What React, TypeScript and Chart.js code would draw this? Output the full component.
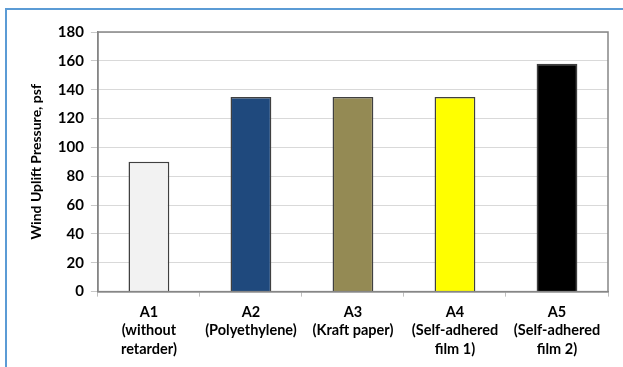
import React, { useEffect, useRef } from "react";
import { Chart, registerables } from "chart.js";

Chart.register(...registerables);

// Specimen assemblies and measured uplift pressures
const categories: string[][] = [
  ["A1", "(without", "retarder)"],
  ["A2", "(Polyethylene)"],
  ["A3", "(Kraft paper)"],
  ["A4", "(Self-adhered", "film 1)"],
  ["A5", "(Self-adhered", "film 2)"],
];
const upliftPsf: number[] = [90, 135, 135, 135, 158];
const barColors: string[] = ["#f2f2f2", "#1f497d", "#948a54", "#ffff00", "#000000"];
const yTicks: number[] = [0, 20, 40, 60, 80, 100, 120, 140, 160, 180];

const FONT = "Lato, 'Open Sans', sans-serif";

// Draws the grey frame around the plot area
const plotFrame = {
  id: "plotFrame",
  afterDatasetsDraw(chart: any) {
    const { ctx, chartArea } = chart;
    ctx.save();
    ctx.strokeStyle = "#868686";
    ctx.lineWidth = 1.5;
    ctx.strokeRect(chartArea.left, chartArea.top, chartArea.right - chartArea.left, chartArea.bottom - chartArea.top);
    ctx.restore();
  },
};

export default function App() {
  const ref = useRef<HTMLCanvasElement | null>(null);

  useEffect(() => {
    if (!ref.current) return;
    const chart = new Chart(ref.current, {
      type: "bar",
      data: {
        labels: categories,
        datasets: [
          {
            data: upliftPsf,
            backgroundColor: barColors,
            borderColor: "#404040",
            borderWidth: 1.5,
            barPercentage: 0.4,
            categoryPercentage: 1,
          },
        ],
      },
      options: {
        animation: false,
        responsive: false,
        maintainAspectRatio: false,
        layout: { padding: { left: 28, right: 15, top: 32, bottom: 2 } },
        plugins: { legend: { display: false }, tooltip: { enabled: false } },
        scales: {
          x: {
            offset: true,
            grid: {
              offset: true,
              drawOnChartArea: false,
              drawTicks: true,
              tickLength: 5,
              color: "#bfbfbf",
            },
            border: { display: true, color: "#868686", width: 1.5 },
            ticks: {
              color: "#000",
              font: { family: FONT, size: 14.5, weight: "bold", lineHeight: 1.25 },
              padding: 7,
              maxRotation: 0,
              autoSkip: false,
            },
          },
          y: {
            min: 0,
            max: 180,
            afterBuildTicks: (axis: any) => {
              axis.ticks = yTicks.map((v) => ({ value: v }));
            },
            grid: { color: "#d9d9d9", tickLength: 7, tickColor: "#c8c8c8", lineWidth: 1 },
            border: { display: true, color: "#868686", width: 1.5 },
            ticks: {
              color: "#000",
              font: { family: FONT, size: 15, weight: "bold" },
              padding: 7,
            },
            title: {
              display: true,
              text: "Wind Uplift Pressure, psf",
              color: "#000",
              font: { family: FONT, size: 14, weight: "bold" },
              padding: { top: 0, bottom: 6 },
            },
          },
        },
      },
      plugins: [plotFrame],
    });
    return () => chart.destroy();
  }, []);

  return (
    <div style={{ position: "fixed", left: 0, top: 0, width: 623, height: 367, background: "#fff" }}>
      <div
        style={{
          position: "absolute",
          left: 5,
          top: 8,
          width: 640,
          height: 380,
          borderLeft: "2px solid #5b9bd5",
          borderTop: "2px solid #5b9bd5",
        }}
      />
      <canvas ref={ref} width={623} height={367} style={{ position: "absolute", left: 0, top: 0 }} />
    </div>
  );
}
